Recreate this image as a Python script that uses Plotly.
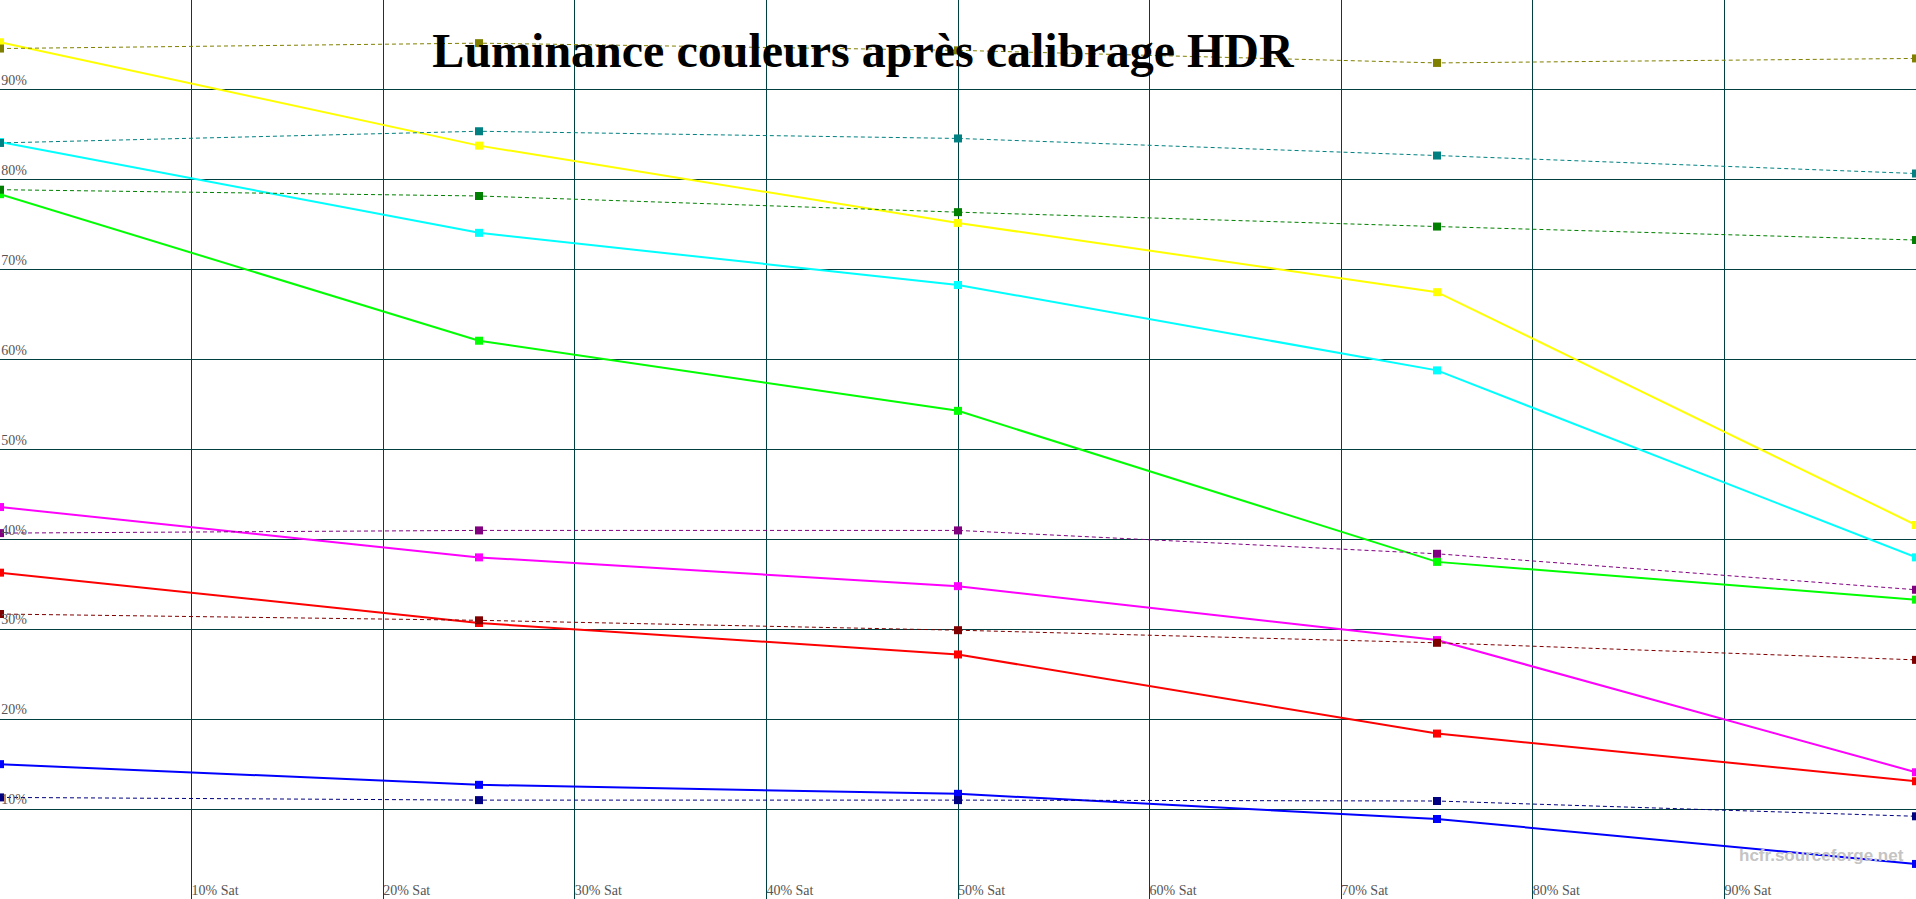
import plotly.graph_objects as go

saturation = [0, 25, 50, 75, 100]

yellow = [95.3, 83.8, 75.2, 67.5, 41.6]
cyan = [84.2, 74.1, 68.3, 58.8, 38.0]
green = [78.4, 62.1, 54.3, 37.5, 33.3]
magenta = [43.6, 38.0, 34.8, 28.8, 14.1]
red = [36.3, 30.7, 27.2, 18.4, 13.1]
blue = [15.0, 12.7, 11.7, 8.9, 3.9]

olive_ref = [94.6, 95.2, 94.4, 93.0, 93.5]
teal_ref = [84.1, 85.4, 84.6, 82.7, 80.7]
dgreen_ref = [78.9, 78.2, 76.4, 74.8, 73.3]
purple_ref = [40.7, 41.0, 41.0, 38.4, 34.4]
maroon_ref = [31.7, 31.0, 29.9, 28.5, 26.6]
navy_ref = [11.3, 11.0, 11.0, 10.9, 9.2]

x_ticks = [10, 20, 30, 40, 50, 60, 70, 80, 90]
x_labels = ["10% Sat", "20% Sat", "30% Sat", "40% Sat", "50% Sat",
            "60% Sat", "70% Sat", "80% Sat", "90% Sat"]
y_ticks = [10, 20, 30, 40, 50, 60, 70, 80, 90]
y_labels = ["10%", "20%", "30%", "40%", "50%", "60%", "70%", "80%", "90%"]

title_text = "Luminance couleurs après calibrage HDR"
watermark = "hcfr.sourceforge.net"

solid_series = [
    ("Jaune", yellow, "#FFFF00"),
    ("Cyan", cyan, "#00FFFF"),
    ("Vert", green, "#00FF00"),
    ("Magenta", magenta, "#FF00FF"),
    ("Rouge", red, "#FF0000"),
    ("Bleu", blue, "#0000FF"),
]
ref_series = [
    ("Jaune réf", olive_ref, "#808000"),
    ("Cyan réf", teal_ref, "#008080"),
    ("Vert réf", dgreen_ref, "#008000"),
    ("Magenta réf", purple_ref, "#800080"),
    ("Rouge réf", maroon_ref, "#800000"),
    ("Bleu réf", navy_ref, "#000080"),
]

fig = go.Figure()
for name, vals, col in solid_series:
    fig.add_trace(go.Scatter(
        x=saturation, y=vals, name=name, mode="lines+markers",
        line=dict(color=col, width=2),
        marker=dict(symbol="square", size=8, color=col),
    ))
for name, vals, col in ref_series:
    fig.add_trace(go.Scatter(
        x=saturation, y=vals, name=name, mode="lines+markers",
        line=dict(color=col, width=1, dash="4px,3px"),
        marker=dict(symbol="square", size=8, color=col),
    ))

grid_col = "#004040"
fig.update_layout(
    width=1916, height=899,
    margin=dict(l=0, r=0, t=0, b=0),
    paper_bgcolor="white", plot_bgcolor="white",
    showlegend=False,
    title=dict(text="<b>" + title_text + "</b>", x=863 / 1916, xanchor="center",
               y=1 - 50 / 899, yanchor="middle", yref="container",
               font=dict(family="Liberation Serif", size=48, color="black")),
    xaxis=dict(range=[0, 100], tickvals=x_ticks, ticktext=x_labels,
               ticklabelposition="inside right", ticks="", ticklabelstandoff=-5,
               showgrid=True, gridcolor=grid_col, gridwidth=1.3,
               zeroline=False, showline=False,
               tickfont=dict(family="Liberation Serif", size=14, color="#555555")),
    yaxis=dict(range=[0, 100], tickvals=y_ticks, ticktext=y_labels,
               ticklabelposition="inside top", ticks="",
               showgrid=True, gridcolor=grid_col, gridwidth=1.3,
               zeroline=False, showline=True, linecolor=grid_col, linewidth=2,
               tickfont=dict(family="Liberation Serif", size=14, color="#555555")),
    annotations=[dict(text="<b>" + watermark + "</b>", xref="paper", yref="paper",
                      x=1906 / 1916, y=1 - 855 / 899, xanchor="right", yanchor="middle",
                      showarrow=False,
                      font=dict(family="Liberation Sans", size=17, color="#c4c4c4"))],
)

fig.write_html("out.html", config={"displayModeBar": False},
               post_script="document.body.style.margin='0';document.body.style.overflow='hidden';")
